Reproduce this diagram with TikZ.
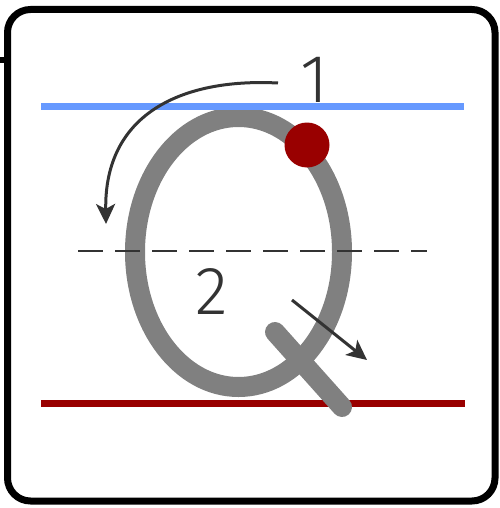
\documentclass[tikz,border=0pt]{standalone}
\usepackage{fontspec}
\newfontfamily\numfont{Fira Sans Light}
\usetikzlibrary{arrows.meta}
\definecolor{guideblue}{HTML}{6699FF}
\definecolor{guidered}{HTML}{990000}
\definecolor{strokegrey}{HTML}{808080}
\definecolor{inkdark}{HTML}{333333}
\tikzset{
  guide/.style={line width=7pt},
  letter/.style={draw=strokegrey,line width=20pt,line cap=round},
  hint/.style={draw=inkdark,line width=3pt,-{Stealth[length=20pt,width=19pt,inset=5pt]}},
  stepnum/.style={text=inkdark,font=\numfont\fontsize{68}{68}\selectfont,inner sep=0pt}
}

\begin{document}
\begin{tikzpicture}[x=1pt,y=-1pt]
  \useasboundingbox (0,0) rectangle (499,508);
  % marco
  \draw[line width=7pt,rounded corners=23pt] (7.5,9.5) rectangle (495,501);
  \draw[line width=6pt] (0,60) -- (8,60);
  % linea base
  \draw[guide,guidered] (41,403) -- (465,403);
  % letra Q
  \draw[letter] (238.5,252) ellipse [x radius=103.5,y radius=135];
  \coordinate (qa) at (275,332);
  \coordinate (qb) at (342,407);
  \draw[letter] (qa) -- (qb);
  % lineas guia
  \draw[inkdark,line width=2.5pt,dash pattern=on 25pt off 12pt] (78,251) -- (427,251);
  \draw[guide,guideblue] (41,107) -- (464,107);
  % punto de inicio
  \fill[guidered] (307,145) circle (22.5);
  % trazos
  \node[stepnum] (one) at (315,80) {1};
  \coordinate (s1) at (278,83);
  \coordinate (e1) at (106,224);
  \draw[hint] (s1) .. controls (180,78) and (104,115) .. (e1);
  \node[stepnum] (two) at (212,291.5) {2};
  \coordinate (s2) at (292,300);
  \coordinate (e2) at (367,360);
  \draw[hint] (s2) -- (e2);
\end{tikzpicture}
\end{document}
